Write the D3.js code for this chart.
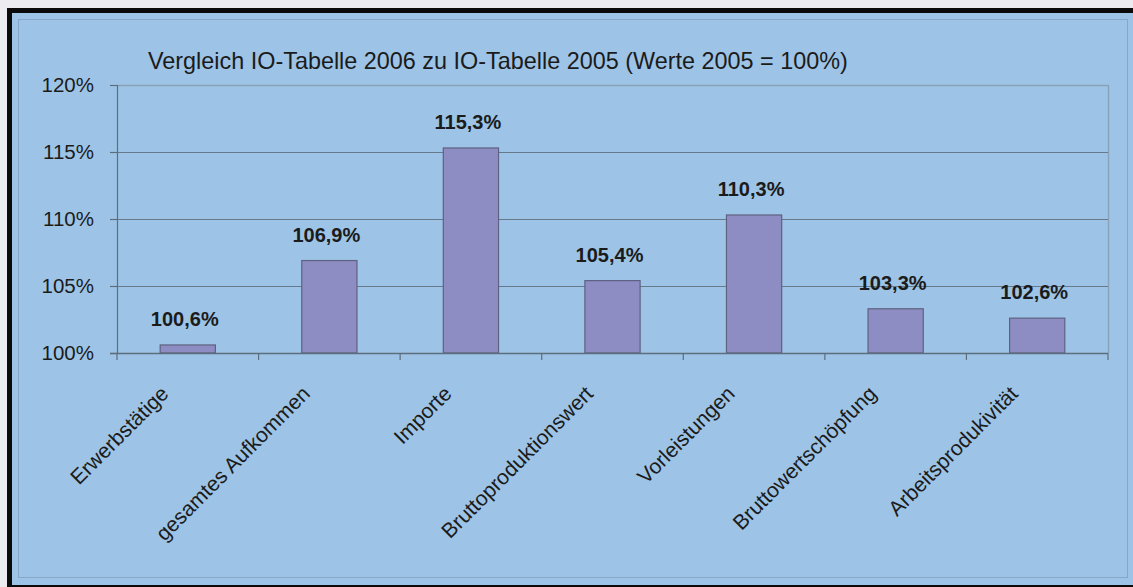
<!DOCTYPE html>
<html>
<head>
<meta charset="utf-8">
<script src="https://cdn.jsdelivr.net/npm/d3@7"></script>
<style>
  html, body { margin: 0; padding: 0; background: #ececf0; }
  svg { display: block; }
  text { font-family: "Liberation Sans", Arial, Helvetica, sans-serif; fill: #1b1b1b; }
</style>
</head>
<body>
<svg id="chart" width="1133" height="587"></svg>
<script>
// Vergleich IO-Tabelle 2006 zu 2005 (Werte 2005 = 100 %)
const categories = [
  "Erwerbstätige",
  "gesamtes Aufkommen",
  "Importe",
  "Bruttoproduktionswert",
  "Vorleistungen",
  "Bruttowertschöpfung",
  "Arbeitsprodukivität"
];
const values = [100.6, 106.9, 115.3, 105.4, 110.3, 103.3, 102.6];
const yTicks = [100, 105, 110, 115, 120];
const title = "Vergleich IO-Tabelle 2006 zu IO-Tabelle 2005 (Werte 2005 = 100%)";

const svg = d3.select("#chart");
const W = 1133, H = 587;

// outer frame: light page edge, black border, blue panel
svg.append("rect").attr("x", 0).attr("y", 0).attr("width", W).attr("height", H).attr("fill", "#ececf0");
svg.append("rect").attr("x", 7).attr("y", 8).attr("width", W - 7).attr("height", H - 8).attr("fill", "#0a0a0a");
svg.append("rect").attr("x", 12).attr("y", 13).attr("width", W - 12).attr("height", 572).attr("fill", "#9dc4e6");
// inner chart-area frame
svg.append("rect").attr("x", 18.5).attr("y", 19.5).attr("width", 1109).attr("height", 558)
  .attr("fill", "none").attr("stroke", "#86a8c6").attr("stroke-width", 1);

const plot = { left: 117, right: 1108, top: 85, bottom: 353 };

const x = d3.scaleBand().domain(categories).range([plot.left, plot.right]).padding(0);
const y = d3.scaleLinear().domain([100, 120]).range([plot.bottom, plot.top]);

// plot-area border (top and right)
svg.append("path")
  .attr("d", `M${plot.left},${plot.top + 0.5}H${plot.right + 0.5}V${plot.bottom}`)
  .attr("fill", "none").attr("stroke", "#8aa2b8").attr("stroke-width", 1.5);

// horizontal gridlines
svg.append("g").selectAll("line").data(yTicks.filter(t => t > 100 && t < 120)).join("line")
  .attr("x1", plot.left).attr("x2", plot.right)
  .attr("y1", d => Math.round(y(d)) + 0.5).attr("y2", d => Math.round(y(d)) + 0.5)
  .attr("stroke", "#667a8c").attr("stroke-width", 1.2);

// y axis
const yAxis = d3.axisLeft(y).tickValues(yTicks).tickSize(7).tickPadding(16)
  .tickFormat(d => d + "%");
const gy = svg.append("g").attr("transform", `translate(${plot.left},0)`).call(yAxis);
gy.select(".domain").attr("stroke", "#5d6d7c").attr("stroke-width", 1.2);
gy.selectAll(".tick line").attr("stroke", "#5d6d7c").attr("stroke-width", 1.2);
gy.selectAll(".tick text").attr("font-size", 20.5)
  .attr("font-family", "'Liberation Sans', Arial, sans-serif").attr("fill", "#1b1b1b");

// bars
const barW = x.bandwidth() * 0.39;
svg.append("g").selectAll("rect").data(values).join("rect")
  .attr("x", (d, i) => x(categories[i]) + (x.bandwidth() - barW) / 2)
  .attr("y", d => y(d))
  .attr("width", barW)
  .attr("height", d => y(100) - y(d))
  .attr("fill", "#8e8dc3")
  .attr("stroke", "#5e6180").attr("stroke-width", 1.2);

// x axis line with category boundary ticks
const bounds = categories.map(c => x(c)).concat([plot.right]);
const gx = svg.append("g");
gx.append("line").attr("x1", plot.left - 7).attr("x2", plot.right)
  .attr("y1", plot.bottom + 0.5).attr("y2", plot.bottom + 0.5)
  .attr("stroke", "#5d6d7c").attr("stroke-width", 1.4);
gx.selectAll("line.t").data(bounds).join("line").attr("class", "t")
  .attr("x1", d => d).attr("x2", d => d)
  .attr("y1", plot.bottom).attr("y2", plot.bottom + 7)
  .attr("stroke", "#5d6d7c").attr("stroke-width", 1.2);

// rotated category labels
svg.append("g").selectAll("text").data(categories).join("text")
  .attr("transform", d => `translate(${x(d) + x.bandwidth() / 2 - 18},${plot.bottom + 42}) rotate(-45)`)
  .attr("text-anchor", "end")
  .attr("font-size", 21)
  .text(d => d);

// value labels above bars
svg.append("g").selectAll("text").data(values).join("text")
  .attr("x", (d, i) => x(categories[i]) + x.bandwidth() / 2 - 3)
  .attr("y", d => y(d) - 19)
  .attr("text-anchor", "middle")
  .attr("font-size", 20)
  .attr("font-weight", "bold")
  .text(d => d.toFixed(1).replace(".", ",") + "%");

// chart title
svg.append("text").attr("x", 148).attr("y", 69)
  .attr("font-size", 23.4)
  .text(title);
</script>
</body>
</html>
